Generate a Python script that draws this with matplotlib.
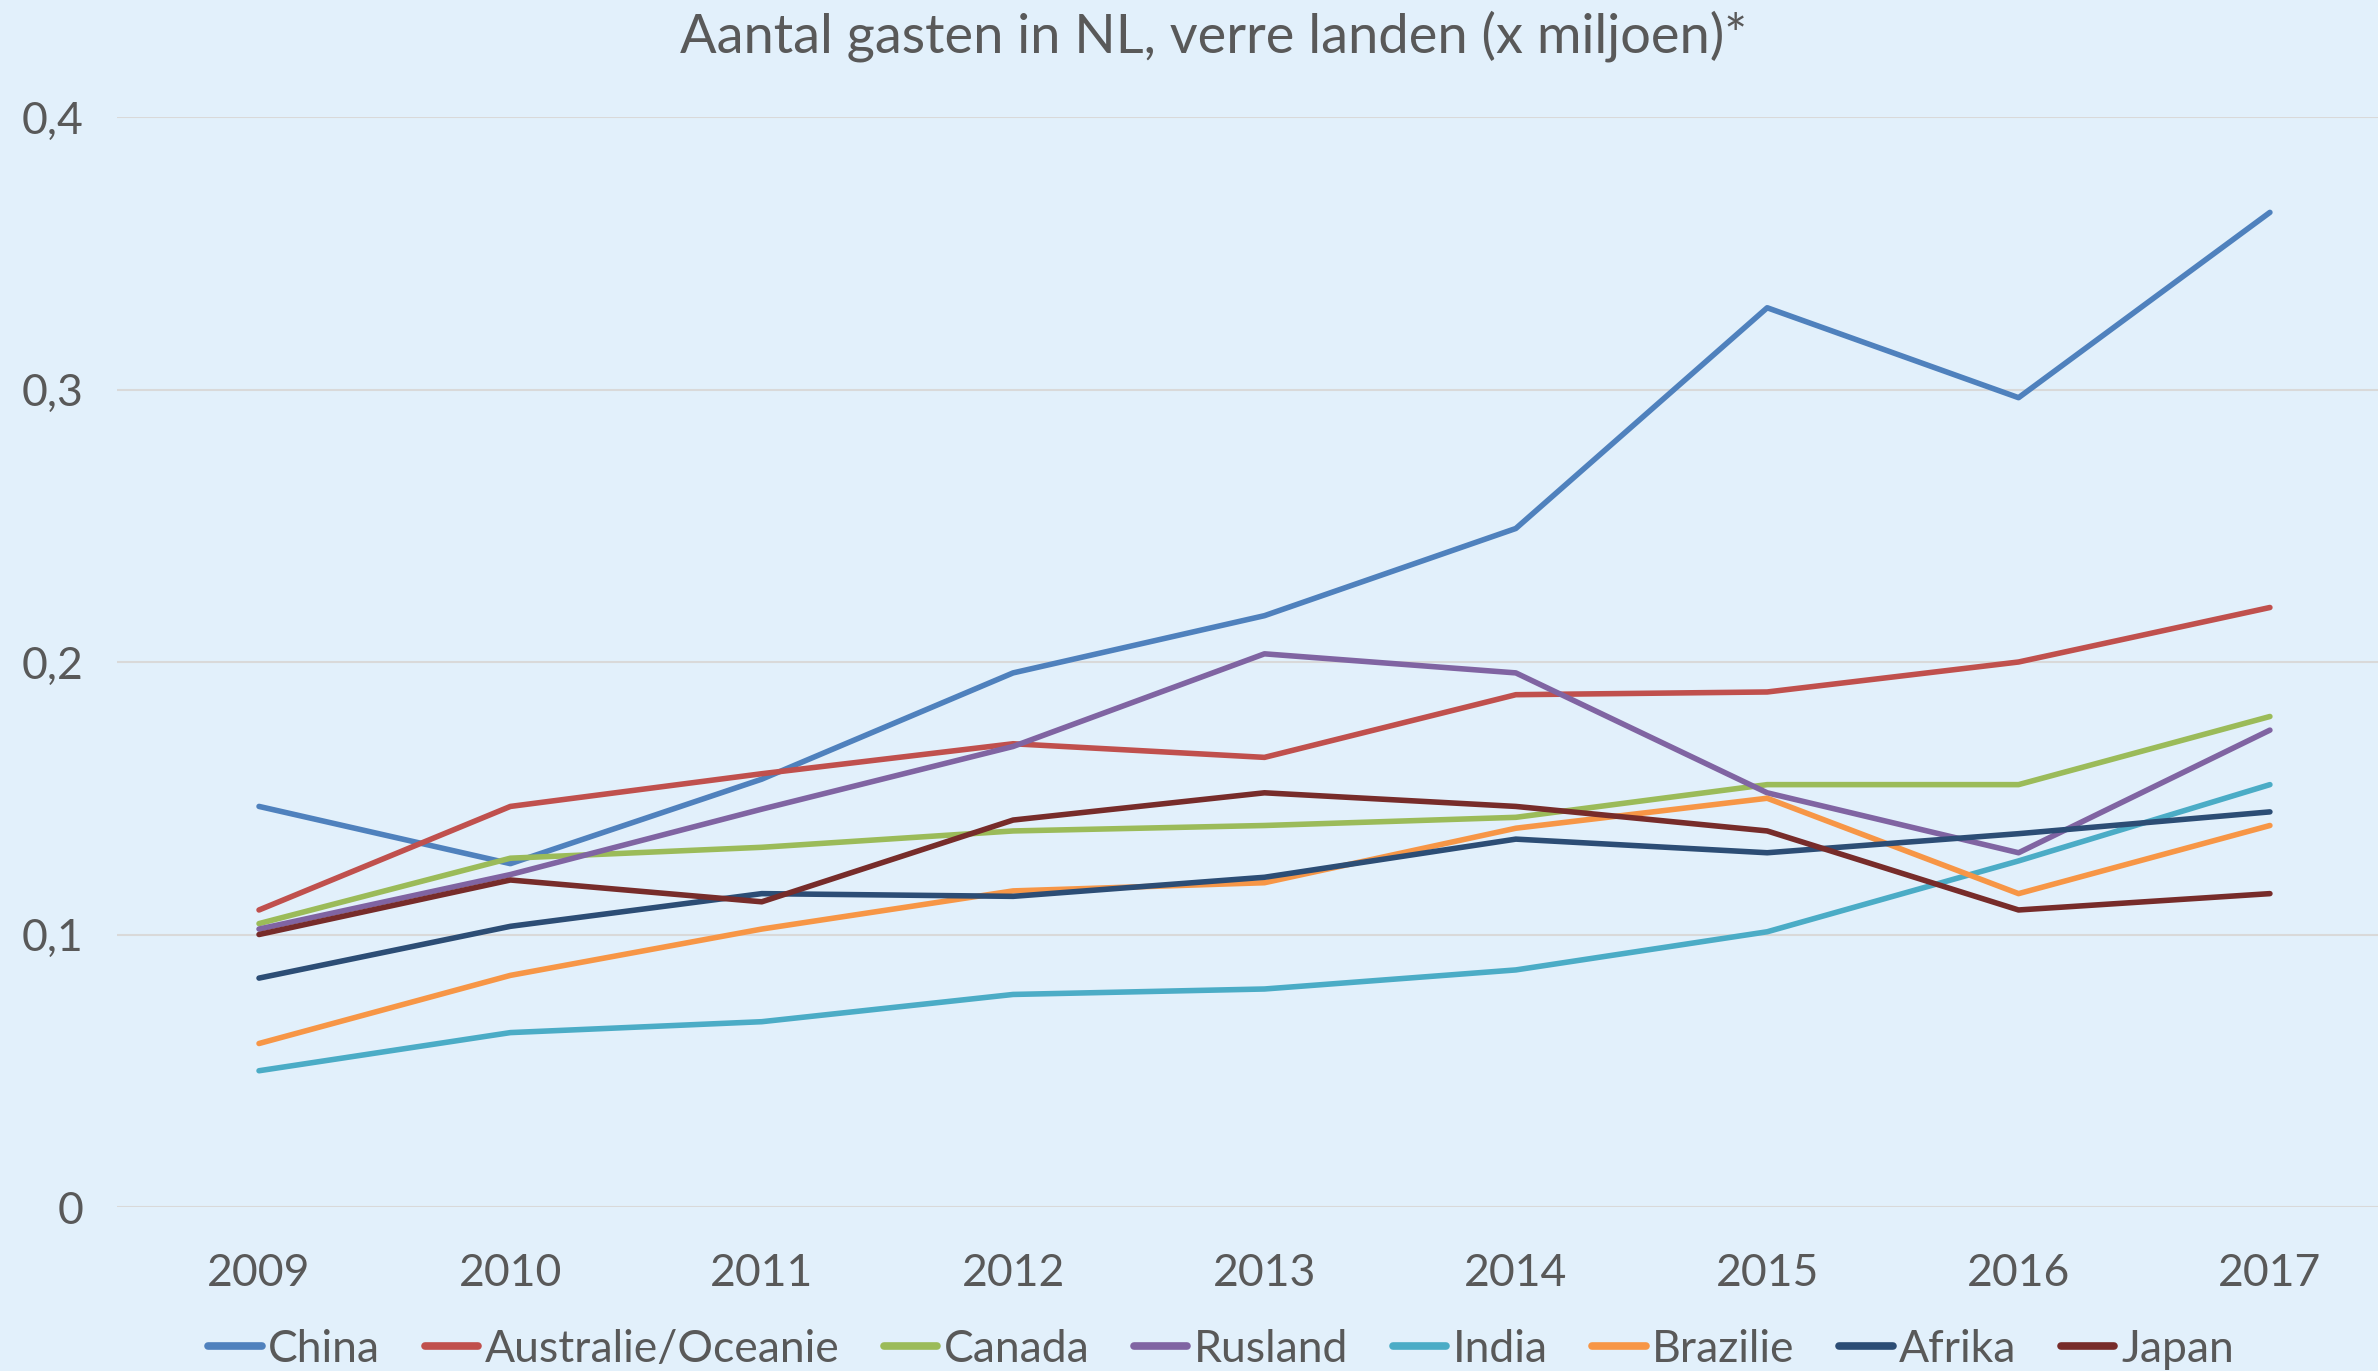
import matplotlib.pyplot as plt
from matplotlib.ticker import FuncFormatter

plt.rcParams['font.family'] = ['Lato', 'DejaVu Sans']

jaren = [2009, 2010, 2011, 2012, 2013, 2014, 2015, 2016, 2017]

china = [0.147, 0.126, 0.157, 0.196, 0.217, 0.249, 0.330, 0.297, 0.365]
australie = [0.109, 0.147, 0.159, 0.170, 0.165, 0.188, 0.189, 0.200, 0.220]
canada = [0.104, 0.128, 0.132, 0.138, 0.140, 0.143, 0.155, 0.155, 0.180]
rusland = [0.102, 0.122, 0.146, 0.169, 0.203, 0.196, 0.152, 0.130, 0.175]
india = [0.050, 0.064, 0.068, 0.078, 0.080, 0.087, 0.101, 0.127, 0.155]
brazilie = [0.060, 0.085, 0.102, 0.116, 0.119, 0.139, 0.150, 0.115, 0.140]
afrika = [0.084, 0.103, 0.115, 0.114, 0.121, 0.135, 0.130, 0.137, 0.145]
japan = [0.100, 0.120, 0.112, 0.142, 0.152, 0.147, 0.138, 0.109, 0.115]

reeksen = [
    ("China", china, "#4F81BD"),
    ("Australie/Oceanie", australie, "#C0504D"),
    ("Canada", canada, "#9BBB59"),
    ("Rusland", rusland, "#8064A2"),
    ("India", india, "#4BACC6"),
    ("Brazilie", brazilie, "#F79646"),
    ("Afrika", afrika, "#2C4D75"),
    ("Japan", japan, "#772C2A"),
]

W, H = 2378, 1371
achtergrond = "#E2F0FB"
tekst = "#595959"

fig = plt.figure(figsize=(W / 100, H / 100), dpi=100, facecolor=achtergrond)
ax = fig.add_axes([117 / W, 1 - 1207 / H, 1 - 117 / W, (1207 - 117) / H])
ax.set_facecolor(achtergrond)

for naam, waarden, kleur in reeksen:
    ax.plot(jaren, waarden, color=kleur, lw=4.0, label=naam,
            solid_capstyle="round", solid_joinstyle="round")

ax.set_ylim(0, 0.4)
ax.set_xlim(2008.435, 2017.43)
ax.set_yticks([0, 0.1, 0.2, 0.3, 0.4])
ax.set_xticks(jaren)
ax.yaxis.set_major_formatter(
    FuncFormatter(lambda v, p: "0" if v == 0 else f"{v:.1f}".replace(".", ",")))
ax.grid(axis="y", color="#D9D9D9", lw=1.5)
ax.set_axisbelow(True)
for s in ax.spines.values():
    s.set_visible(False)
ax.tick_params(axis="both", length=0, labelsize=32, colors=tekst)
ax.tick_params(axis="x", pad=33)
ax.tick_params(axis="y", pad=24)

fig.text(1214 / W, 1 - 36 / H, "Aantal gasten in NL, verre landen (x miljoen)*",
         ha="center", va="center", fontsize=39, color=tekst)

leg = fig.legend(loc="center", bbox_to_anchor=(1221 / W, 1 - 1349 / H), ncol=8,
                 frameon=False, fontsize=32, handlelength=1.2, handletextpad=0.15,
                 columnspacing=1.0, borderaxespad=0)
for t in leg.get_texts():
    t.set_color(tekst)
for l in leg.get_lines():
    l.set_linewidth(5.5)

fig.savefig("out.png", dpi=100, facecolor=achtergrond)
